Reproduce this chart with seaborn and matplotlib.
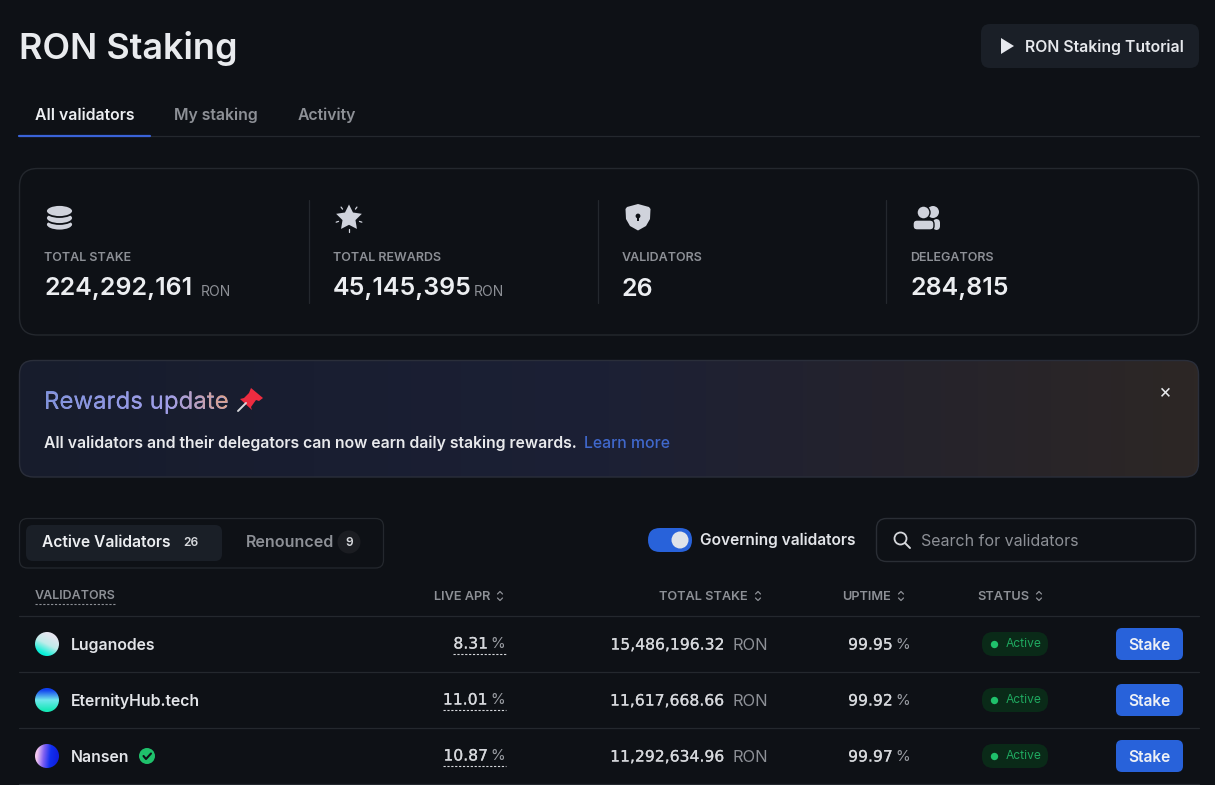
import numpy as np
import pandas as pd
import seaborn as sns
import matplotlib.pyplot as plt
import matplotlib.patheffects as pe
from matplotlib.colors import to_rgb
from matplotlib.font_manager import FontProperties
from matplotlib.patches import Circle, Ellipse, FancyBboxPatch, PathPatch, Polygon, Rectangle
from matplotlib.textpath import TextPath
from matplotlib.transforms import Affine2D

# table data
validators = ["Luganodes", "EternityHub.tech", "Nansen"]
live_apr = ["8.31", "11.01", "10.87"]
total_stake = ["15,486,196.32", "11,617,668.66", "11,292,634.96"]
uptime = ["99.95", "99.92", "99.97"]
avatar_colors = [["#e6e6f0", "#c0ecea", "#08f0d8"],
                 ["#1040f0", "#70e8ec", "#18e8b8"],
                 ["#f4c8f0", "#8060f0", "#1030f0", "#1020e0"]]
avatar_dirs = [(-0.5, 1.0), (0.0, 1.0), (1.0, 0.1)]

# stat cards
stat_labels = ["TOTAL STAKE", "TOTAL REWARDS", "VALIDATORS", "DELEGATORS"]
stat_values = ["224,292,161", "45,145,395", "26", "284,815"]
stat_units = ["RON", "RON", "", ""]

tab_labels = ["All validators", "My staking", "Activity"]
column_labels = ["LIVE APR", "TOTAL STAKE", "UPTIME", "STATUS"]

BG = "#0e1116"
LINE = "#24282e"
WHITE = "#eceef1"
GREY = "#8d9096"
SOFT = "#d6d8dc"
ICON = "#d0d3dc"
BLUE = "#2862da"
GREEN = "#1fc16b"

sns.set_theme(style="dark", rc={"figure.facecolor": BG, "axes.facecolor": BG})
plt.rcParams["font.family"] = ["Inter", "DejaVu Sans"]

fig = plt.figure(figsize=(12.15, 7.85), dpi=100)
ax = fig.add_axes([0, 0, 1, 1])


def txt(x, y, s, size, color=WHITE, weight="normal", ha="left", va="center", **kw):
    # size is given in screen pixels, centred text sits a pixel low in the browser
    dy = 1 if va == "center" else 0
    return ax.text(x, y + dy, s, fontsize=size * 0.72, color=color, fontweight=weight, ha=ha, va=va, **kw)


def num(x, y, s, color=SOFT, ha="right"):
    # the page uses tabular digits, DejaVu has the same digit widths
    return txt(x, y, s, 15.6, color, ha=ha, family="DejaVu Sans",
               path_effects=[pe.withStroke(linewidth=0.15, foreground=color)])


def box(x0, y0, x1, y1, r, face="none", edge="none", lw=1.0, z=1):
    p = FancyBboxPatch((x0, y0), x1 - x0, y1 - y0, boxstyle=f"round,pad=0,rounding_size={r}",
                       facecolor=face, edgecolor=edge, linewidth=lw, zorder=z)
    ax.add_patch(p)
    return p


def hline(y, x0=19, x1=1199, color=LINE, **kw):
    ax.plot([x0, x1], [y, y], color=color, lw=kw.pop("lw", 0.9), **kw)


def sort_arrows(x, y):
    ax.plot([x - 2.5, x, x + 2.5], [y - 2, y - 4.5, y - 2], color=GREY, lw=0.9)
    ax.plot([x - 2.5, x, x + 2.5], [y + 2, y + 4.5, y + 2], color=GREY, lw=0.9)


def gradient(stops, n=256):
    cols = np.array([to_rgb(c) for c in stops])
    t = np.linspace(0, 1, n)
    pos = np.linspace(0, 1, len(cols))
    arr = np.stack([np.interp(t, pos, cols[:, i]) for i in range(3)], axis=-1)
    return arr[None, :, :]


def gradient2d(stops, direction, n=64):
    cols = np.array([to_rgb(c) for c in stops])
    yy, xx = np.mgrid[-1:1:n * 1j, -1:1:n * 1j]
    dx, dy = direction
    t = (xx * dx + yy * dy) / np.hypot(dx, dy)
    t = np.clip((t + 0.85) / 1.7, 0, 1)
    pos = np.linspace(0, 1, len(cols))
    return np.stack([np.interp(t, pos, cols[:, i]) for i in range(3)], axis=-1)


# header
txt(19, 47, "RON Staking", 36, "#e9ebee", "semibold")
box(981, 24, 1199, 68, 9, face="#1a1f27")
ax.add_patch(Polygon([(1001, 38), (1001, 54), (1014, 46)], closed=True, facecolor="#e6e8ee", edgecolor="none"))
txt(1025, 46, "RON Staking Tutorial", 15.8, "#e6e8ec", "semibold")

# tabs
tab_x = [35, 174, 298]
for i, label in enumerate(tab_labels):
    txt(tab_x[i], 114, label, 15.8, WHITE if i == 0 else GREY, "semibold")
hline(136, color=LINE)
hline(135.5, 19, 150, color="#3a63d8", lw=1.6)

# stats card
box(19.5, 168.5, 1198.5, 335, 18, edge=LINE, lw=1.0)
stat_x = [44, 333, 621.5, 910]
unit_x = [201, 474]
for i in range(4):
    txt(stat_x[i], 257, stat_labels[i], 12.5, GREY, "semibold")
    txt(stat_x[i], 288, stat_values[i], 25, WHITE, "semibold")
    if stat_units[i]:
        txt(unit_x[i], 290.5, stat_units[i], 14, GREY)
for x in [309, 597.5, 885.5]:
    ax.plot([x, x], [200, 303], color=LINE, lw=0.9)

# database icon
for y0 in [224.5, 218, 211]:
    ax.add_patch(Ellipse((59.5, y0), 27, 12, facecolor=ICON, edgecolor=BG, lw=1.3))

# star icon
ang = np.linspace(-np.pi / 2, 1.5 * np.pi, 11)[:-1]
rad = np.where(np.arange(10) % 2 == 0, 13.5, 6.8)
ax.add_patch(Polygon(np.c_[349 + rad * np.cos(ang), 218 + rad * np.sin(ang)], closed=True, facecolor=ICON, edgecolor="none"))
for a in ang[1::2]:
    ax.plot([349 + 11 * np.cos(a), 349 + 13.5 * np.cos(a)], [218 + 11 * np.sin(a), 218 + 13.5 * np.sin(a)], color=ICON, lw=0.9)

# shield icon
ax.add_patch(Polygon([(638, 204), (649, 207), (650.5, 209), (650, 219), (646, 226), (638, 230.5), (630, 226),
                      (626, 219), (625.5, 209), (627, 207)], closed=True, facecolor=ICON, edgecolor="none"))
ax.add_patch(Circle((638, 216), 2.4, facecolor=BG, edgecolor="none"))
ax.add_patch(Rectangle((637.1, 216), 1.8, 5, facecolor=BG, edgecolor="none"))

# users icon
ax.add_patch(Circle((933, 212), 6, facecolor=ICON, edgecolor="none"))
box(933, 219, 940, 230, 4, face=ICON)
ax.add_patch(Circle((923.5, 212.5), 6.5, facecolor=ICON, edgecolor=BG, lw=1.0))
box(913, 220, 934, 230, 4, face=ICON, edge=BG, lw=1.0)

# rewards banner
box(19.5, 360.5, 1198.5, 477, 14, edge="#2a2e3a", lw=1.0, z=2)
im = ax.imshow(gradient(["#171c2c", "#191e31", "#1c2035", "#25232c", "#2d2725"]),
               extent=(19, 1199, 477, 360), aspect="auto", zorder=1.5)
im.set_clip_path(box(19.5, 360.5, 1198.5, 477, 14, z=0))

# the title stays real text, the gradient sits on top of it clipped to its glyphs
fp = FontProperties(family="Inter", size=24)
txt(44, 408.5, "Rewards update", 24, "#a29fe0", va="baseline")
glyphs = TextPath((0, 0), "Rewards update", prop=fp)
glyph_patch = PathPatch(glyphs, facecolor="none", edgecolor="none",
                        transform=Affine2D().scale(1, -1).translate(44, 408.5) + ax.transData)
ax.add_patch(glyph_patch)
im = ax.imshow(gradient(["#7f92dc", "#8d98e4", "#a09ee8", "#e2a383"]), extent=(44, 232, 415, 385), aspect="auto", zorder=3)
im.set_clip_path(glyph_patch)

# pin emoji
ax.add_patch(Polygon([(251, 388), (263, 398), (259, 401), (256, 400), (251, 407), (252, 410), (240, 399), (244, 398), (249, 393)],
                     closed=True, facecolor="#ee2c40", edgecolor="none", zorder=3))
ax.plot([238, 246], [411, 403], color="#d8d8dc", lw=1.4, zorder=3)

txt(44, 442, "All validators and their delegators can now earn daily staking rewards.", 15.75, "#e8e9ec", "semibold")
txt(584, 442, "Learn more", 15.8, "#4068cc", "medium")
ax.text(1165, 393, "\u00d7", fontsize=14, color="#e8e9ec", ha="center", va="center")

# segmented control
box(19.5, 518.5, 383.5, 568, 8, edge=LINE, lw=0.9)
box(26, 525, 222, 561, 7, face="#1a1f27")
txt(42, 541.5, "Active Validators", 15.6, WHITE, "semibold")
txt(183, 542, "26", 12, SOFT, "semibold")
txt(246, 541.5, "Renounced", 16, GREY, "semibold")
ax.add_patch(Circle((349, 542), 11.5, facecolor="#1b1d22", edgecolor="none"))
txt(349, 542, "9", 12, SOFT, "semibold", ha="center")

# toggle and search
box(648, 528, 692, 552, 12, face=BLUE)
ax.add_patch(Circle((680, 540), 8.5, facecolor="#dfe3ea", edgecolor="none"))
txt(700, 539, "Governing validators", 15.5, "#e2e4e8", "semibold")
box(876.5, 518.5, 1195.5, 561.5, 10, edge="#2a2e35", lw=1.0)
ax.add_patch(Circle((900.5, 538.5), 6, facecolor="none", edgecolor=SOFT, lw=1.3))
ax.plot([905, 910], [543, 548], color=SOFT, lw=1.4)
txt(921, 540, "Search for validators", 16, GREY)

# table header
txt(35, 595, "VALIDATORS", 12.5, GREY, "semibold")
hline(603.5, 35, 115, color=GREY, lw=0.8, ls=(0, (2, 1.5)))
col_right = [490, 748, 891, 1029]
for label, x in zip(column_labels, col_right):
    txt(x, 595.5, label, 12.8, GREY, "semibold", ha="right")
    sort_arrows(x + 10, 596)
hline(615.5)

# rows
ROW0, ROW_H = 644, 56
rows = pd.DataFrame({"validator": validators, "apr": live_apr, "stake": total_stake, "uptime": uptime})
rows["y"] = ROW0 + rows.index * ROW_H
rows["dot_x"] = 994

for i, r in rows.iterrows():
    y = r["y"]
    hline(y + 27.5)
    im = ax.imshow(gradient2d(avatar_colors[i], avatar_dirs[i]), extent=(35, 59, y + 12, y - 12), aspect="auto", zorder=2)
    im.set_clip_path(Circle((47, y), 12, transform=ax.transData))
    txt(71, y + 6, r["validator"], 15.8, "#e2e4e8", "semibold", va="baseline")

    a = num(488, y - 1, r["apr"])
    txt(490.5, y - 1, "%", 15, "#9a9da3")
    w = a.get_window_extent(fig.canvas.get_renderer()).width
    hline(y + 10, 488 - w, 505.5, color=SOFT, lw=0.8, ls=(0, (2, 1.5)))

    num(725, y, r["stake"])
    txt(733, y, "RON", 16.5, GREY)
    num(893, y, r["uptime"])
    txt(895.5, y, "%", 15, "#9a9da3")

    box(982, y - 12, 1048, y + 12, 11, face="#0a2a18")
    txt(1006, y - 1, "Active", 12, "#1fa85f")
    box(1116, y - 16, 1183, y + 16, 6, face=BLUE)
    txt(1149.5, y, "Stake", 15.5, "#eef1f6", "semibold", ha="center")

# status dots
sns.scatterplot(data=rows, x="dot_x", y="y", color=GREEN, s=28, linewidth=0, ax=ax, zorder=3, legend=False)

# verified badge next to Nansen
check_y = rows.loc[2, "y"]
ax.add_patch(Circle((147, check_y), 8, facecolor=GREEN, edgecolor="none"))
ax.plot([143.5, 146, 151], [check_y, check_y + 3, check_y - 2.5], color=BG, lw=1.5)

ax.set_xlim(0, 1215)
ax.set_ylim(785, 0)
ax.set_axis_off()

plt.savefig("out.png", dpi=100, facecolor=BG)
